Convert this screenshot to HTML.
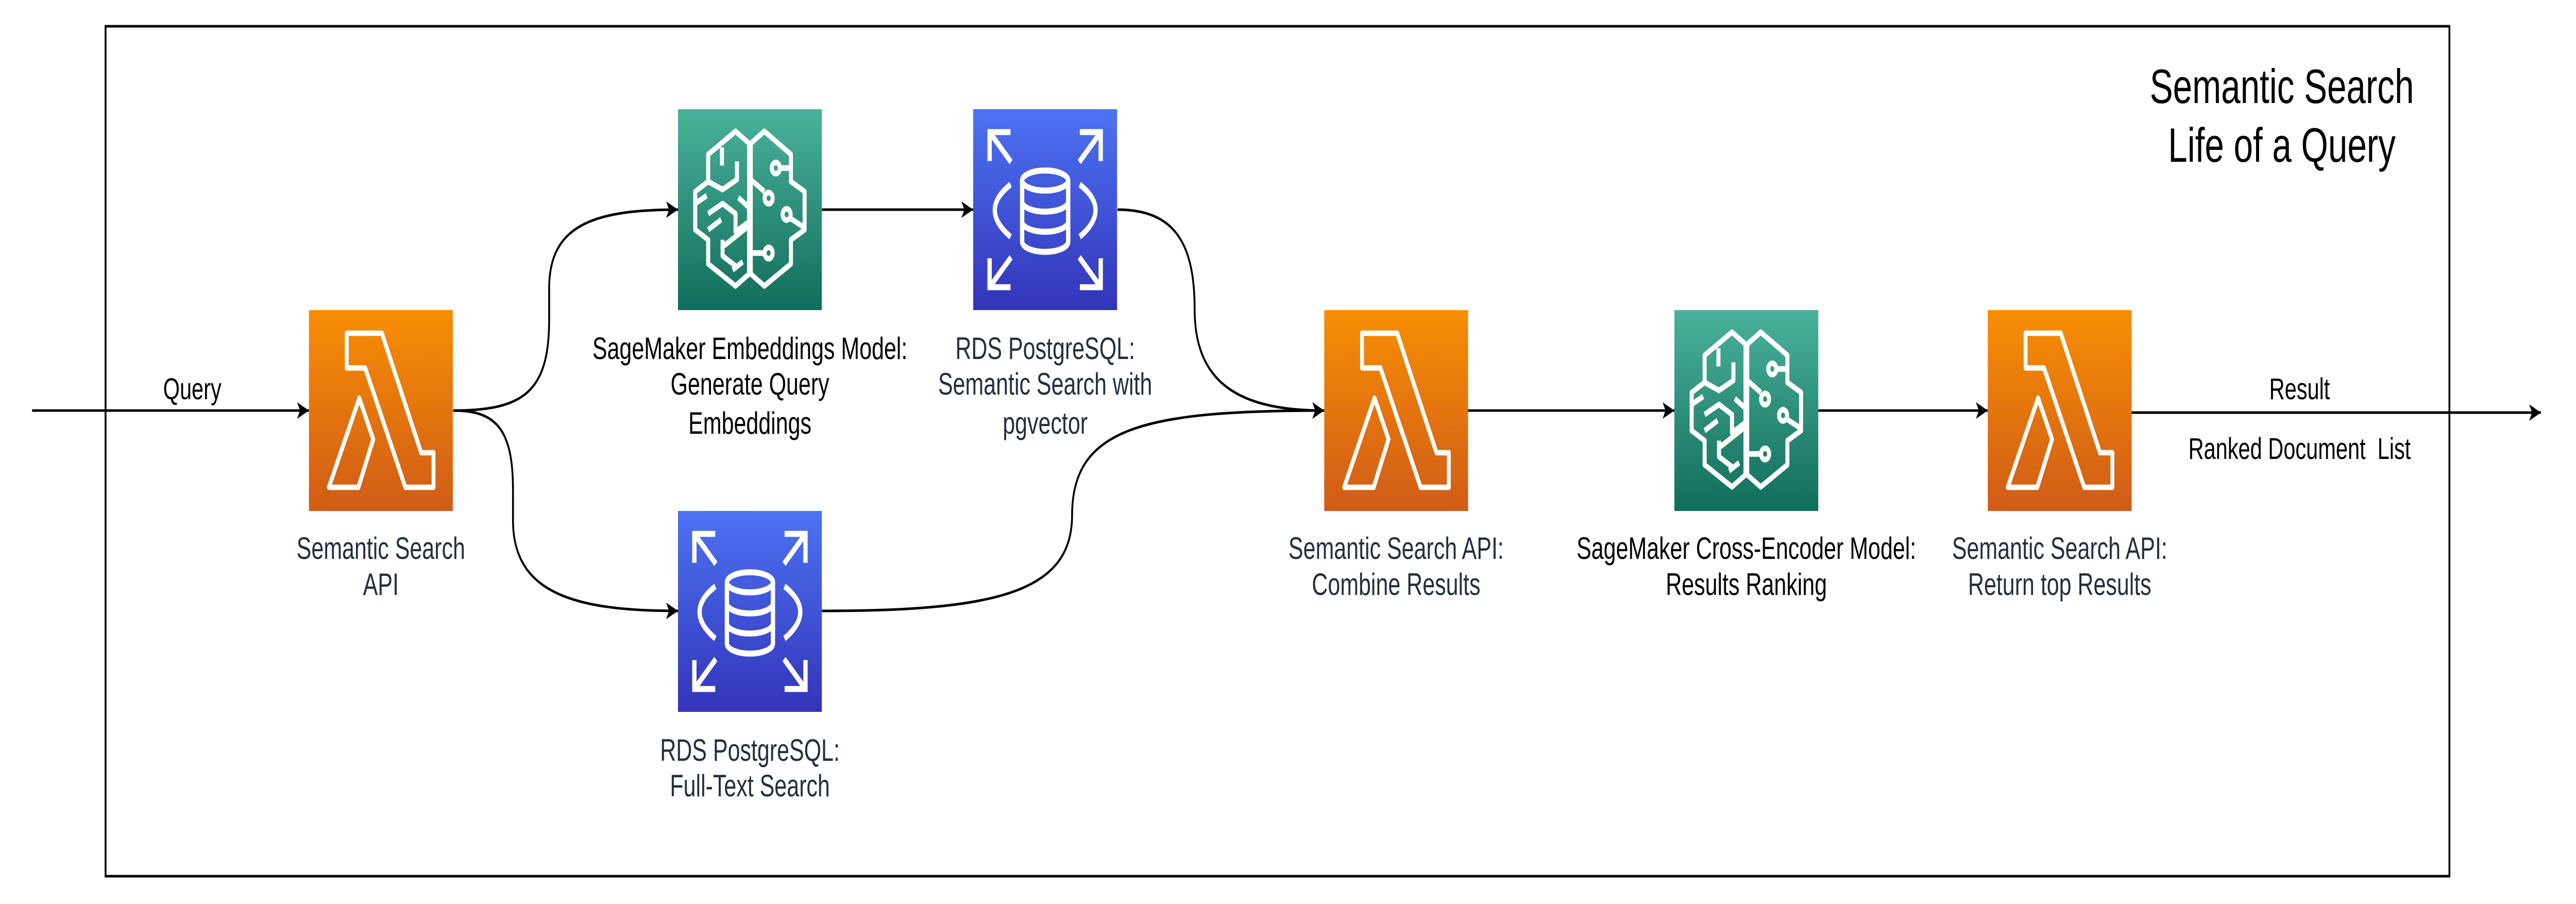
<!DOCTYPE html>
<html><head><meta charset="utf-8"><style>
html,body{margin:0;padding:0;background:#fff;width:100%;height:100%;overflow:hidden;}
svg{display:block;position:absolute;left:0;top:0;width:100vw;height:100vh;}
text{font-family:"Liberation Sans",Arial,sans-serif;}
</style></head><body>
<svg viewBox="0 0 6980 1755" preserveAspectRatio="none" xmlns="http://www.w3.org/2000/svg">
<defs>
<linearGradient id="gL" x1="0" y1="0" x2="0" y2="1"><stop offset="0" stop-color="#F78E04"/><stop offset="1" stop-color="#D05C17"/></linearGradient>
<linearGradient id="gS" x1="0" y1="0" x2="0" y2="1"><stop offset="0" stop-color="#4AB29A"/><stop offset="1" stop-color="#116D5B"/></linearGradient>
<linearGradient id="gR" x1="0" y1="0" x2="0" y2="1"><stop offset="0" stop-color="#4D72F3"/><stop offset="1" stop-color="#3334B9"/></linearGradient>
<marker id="ar" markerUnits="userSpaceOnUse" markerWidth="40" markerHeight="40" viewBox="0 0 40 40" refX="34" refY="20" orient="auto">
<path d="M2,4 L34,20 L2,36 L10,20 Z" fill="#000"/></marker>
<symbol id="lam" viewBox="0 0 100 100">
<rect width="100" height="100" fill="url(#gL)"/>
<g fill="none" stroke="#fff" stroke-width="2.7" stroke-linejoin="round">
<path d="M26.3,11.5 L50.7,11.5 L78,71 L86.6,71 L86.6,88.2 L67,88.2 L39.1,28.8 L26.3,28.8 Z"/>
<path d="M35,43.8 L44.7,64.3 L34.4,88.2 L13.9,88.2 Z"/>
</g></symbol>
<symbol id="sm" viewBox="0 0 100 100">
<rect width="100" height="100" fill="url(#gS)"/>
<g fill="none" stroke="#fff" stroke-width="2.8" stroke-linejoin="round">
<path d="M49.4,17 L40,11 L21,22.5 L21,36 L12,41 L12,60 L21,65 L21,77 L40,88 L49.4,82 Z"/>
<path d="M50.6,17 L60,11 L78.5,22.5 L78.5,36 L88,41 L88,60 L78.5,65 L78.5,77 L60,88 L50.6,82 Z"/>
<path d="M30.6,28 L30.6,19"/>
<path d="M41,26 L41,35 L31,40 L21,36"/>
<path d="M12,47 L20,43"/>
<path d="M21,52 L31,47 L40,52 L40,61 L49.4,56"/>
<path d="M42,44 L49.4,49"/>
<path d="M21,60 L30,55"/>
<path d="M32,68 L49.4,58"/>
<path d="M38,80 L45,76"/>
<path d="M31,65 L31,73 L40,78"/>
<path d="M50.6,35 L60,41"/>
<path d="M71,29.3 L78.5,29.3"/>
<path d="M78.5,54.5 L88,59"/>
<path d="M50.6,71.6 L60,71.6"/>
<circle cx="68" cy="29.3" r="2.8"/>
<circle cx="63" cy="44.3" r="2.8"/>
<circle cx="75.5" cy="52.4" r="2.8"/>
<circle cx="63" cy="71.6" r="2.8"/>
</g></symbol>
<symbol id="rds" viewBox="0 0 100 100">
<rect width="100" height="100" fill="url(#gR)"/>
<g fill="none" stroke="#fff" stroke-width="3" stroke-linejoin="miter">
<path d="M11.4,25.8 L11.4,11.4 L25.9,11.4 M11.4,11.4 L26.3,26.3"/>
<path d="M88.6,25.8 L88.6,11.4 L74.1,11.4 M88.6,11.4 L73.7,26.3"/>
<path d="M11.4,74.2 L11.4,88.6 L25.9,88.6 M11.4,88.6 L26.3,73.7"/>
<path d="M88.6,74.2 L88.6,88.6 L74.1,88.6 M88.6,88.6 L73.7,73.7"/>
<ellipse cx="50" cy="35.5" rx="16" ry="5"/>
<path d="M34,35.5 L34,66 A16,5 0 0 0 66,66 L66,35.5"/>
<path d="M34,46 A16,5 0 0 0 66,46"/>
<path d="M34,56 A16,5 0 0 0 66,56"/>
<path d="M26,37.5 Q4,50 26,63.5"/>
<path d="M74,37.5 Q96,50 74,63.5"/>
</g></symbol>
</defs>

<rect x="286" y="51" width="6351" height="1650" fill="none" stroke="#000" stroke-width="5"/>

<text x="6183" y="200" font-size="94" text-anchor="middle" fill="#000">Semantic Search</text>
<text x="6183" y="314" font-size="94" text-anchor="middle" fill="#000">Life of a Query</text>

<g fill="none" stroke="#000" stroke-width="5">
<path d="M87,797 L837,797" marker-end="url(#ar)"/>
<path d="M1228,797 C1420,797 1488,760 1488,620 L1488,560 C1488,440 1600,407 1837,407" marker-end="url(#ar)"/>
<path d="M1228,797 C1340,797 1390,830 1390,950 L1390,1010 C1390,1150 1550,1186 1837,1186" marker-end="url(#ar)"/>
<path d="M2227,407 L2637,407" marker-end="url(#ar)"/>
<path d="M3028,407 C3180,407 3237,470 3237,600 C3237,740 3350,797 3588,797" marker-end="url(#ar)"/>
<path d="M2227,1186 C2700,1186 2905,1150 2905,1000 C2905,830 3100,797 3588,797" marker-end="url(#ar)"/>
<path d="M3977,797 L4537,797" marker-end="url(#ar)"/>
<path d="M4927,797 L5386,797" marker-end="url(#ar)"/>
<path d="M5776,801 L6885,801" marker-end="url(#ar)"/>
</g>

<use href="#lam" x="837" y="602" width="390" height="390"/>
<use href="#sm" x="1837" y="212" width="390" height="390"/>
<use href="#rds" x="1837" y="992" width="390" height="390"/>
<use href="#rds" x="2637" y="212" width="390" height="390"/>
<use href="#lam" x="3588" y="602" width="390" height="390"/>
<use href="#sm" x="4537" y="602" width="390" height="390"/>
<use href="#lam" x="5386" y="602" width="390" height="390"/>

<g font-size="58" text-anchor="middle">
<text x="521" y="775" fill="#000">Query</text>
<text x="6231" y="775" fill="#000">Result</text>
<text x="6231" y="891" fill="#000" xml:space="preserve">Ranked Document  List</text>
</g>
<g font-size="60" text-anchor="middle">
<text x="1032" y="1085" fill="#232F3E">Semantic Search</text>
<text x="1032" y="1155" fill="#232F3E">API</text>
<text x="2032" y="697" fill="#000">SageMaker Embeddings Model:</text>
<text x="2032" y="766" fill="#000">Generate Query</text>
<text x="2032" y="842" fill="#000">Embeddings</text>
<text x="2032" y="1477" fill="#232F3E">RDS PostgreSQL:</text>
<text x="2032" y="1546" fill="#232F3E">Full-Text Search</text>
<text x="2832" y="697" fill="#232F3E">RDS PostgreSQL:</text>
<text x="2832" y="766" fill="#232F3E">Semantic Search with</text>
<text x="2832" y="842" fill="#232F3E">pgvector</text>
<text x="3783" y="1085" fill="#232F3E">Semantic Search API:</text>
<text x="3783" y="1155" fill="#232F3E">Combine Results</text>
<text x="4732" y="1085" fill="#000">SageMaker Cross-Encoder Model:</text>
<text x="4732" y="1155" fill="#000">Results Ranking</text>
<text x="5581" y="1085" fill="#232F3E">Semantic Search API:</text>
<text x="5581" y="1155" fill="#232F3E">Return top Results</text>
</g>
</svg>
</body></html>
